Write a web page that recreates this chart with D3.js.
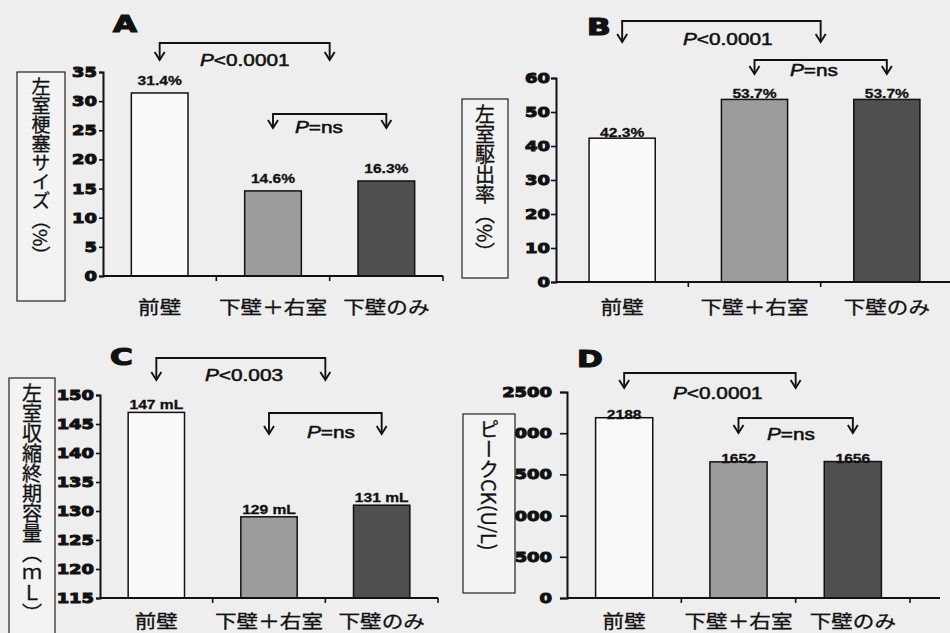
<!DOCTYPE html>
<html>
<head>
<meta charset="utf-8">
<script src="https://cdn.jsdelivr.net/npm/d3@7"></script>
<style>
  body { margin: 0; background: #eeeeee; }
  svg { display: block; }
</style>
</head>
<body>
<svg id="chart" width="950" height="633"></svg>
<script>
// categories shared by all four panels
const categories = ["前壁", "下壁＋右室", "下壁のみ"];

// A: infarct size (%)
const infarctSize = [31.4, 14.6, 16.3];
const infarctText = ["31.4%", "14.6%", "16.3%"];
const infarctTicks = [0, 5, 10, 15, 20, 25, 30, 35];

// B: ejection fraction (%)
const ejectionFraction = [42.3, 53.7, 53.7];
const efText = ["42.3%", "53.7%", "53.7%"];
const efTicks = [0, 10, 20, 30, 40, 50, 60];

// C: end-systolic volume (mL)
const endSystolicVol = [147, 129, 131];
const esvText = ["147 mL", "129 mL", "131 mL"];
const esvTicks = [115, 120, 125, 130, 135, 140, 145, 150];

// D: peak CK (U/L)
const peakCK = [2188, 1652, 1656];
const ckText = ["2188", "1652", "1656"];
const ckTicks = [0, 500, 1000, 1500, 2000, 2500];

const pBig = ["<0.0001", "<0.0001", "<0.003", "<0.0001"];
const pSmall = ["=ns", "=ns", "=ns", "=ns"];
const letters = ["A", "B", "C", "D"];
const yTitles = ["左室梗塞サイズ（%）", "左室駆出率（%）", "左室収縮終期容量（ｍＬ）", "ピークCK(U/L)"];

const barFills = ["#fafafa", "#9c9c9c", "#4f4f4f"];

// panel layout (pixels)
const panels = [
  { values: infarctSize, text: infarctText, ticks: infarctTicks, domain: [0, 35],
    xr: [103, 443], axisEnd: 443, yr: [276, 72], tickGap: 6, tickLen: 4,
    letter: [113, 32], box: [17, 72, 48, 229], titleSize: 19,
    big: [43, 60], bigText: [200, 66], small: [114, 128], smallText: [295, 133],
    valOff: 8, catY: 314 },
  { values: ejectionFraction, text: efText, ticks: efTicks, domain: [0, 60],
    xr: [556, 953], axisEnd: 950, yr: [282, 78], tickGap: 6, tickLen: 5,
    letter: [587, 35], box: [462, 99, 46, 179], titleSize: 20,
    big: [21, 42], bigText: [683, 45], small: [60, 74], smallText: [790, 76],
    valOff: 1, catY: 314 },
  { values: endSystolicVol, text: esvText, ticks: esvTicks, domain: [115, 150],
    xr: [100, 438], axisEnd: 438, yr: [598, 395], tickGap: 6, tickLen: 4,
    letter: [110, 365], box: [9, 378, 46, 270], titleSize: 20,
    big: [358, 380], bigText: [205, 381], small: [413, 434], smallText: [307, 438],
    valOff: 3, catY: 628 },
  { values: peakCK, text: ckText, ticks: ckTicks, domain: [0, 2500],
    xr: [567, 910], axisEnd: 940, yr: [598, 392], tickGap: 15, tickLen: 7,
    letter: [577, 367], box: [463, 414, 52, 179], titleSize: 20,
    big: [373, 388], bigText: [673, 399], small: [418, 433], smallText: [767, 440],
    valOff: -1, catY: 628 }
];

const svg = d3.select("#chart");
svg.append("rect").attr("width", 950).attr("height", 633).attr("fill", "#eeeeee");

// text that is stretched sideways like the scanned original
function wideText(g, x, y, str, o) {
  return g.append("text")
    .attr("transform", `translate(${x},${y}) scale(${o.sx || 1.3},1)`)
    .attr("text-anchor", o.anchor || "start")
    .style("font-family", o.family || "'Liberation Sans', Arial, sans-serif")
    .style("font-size", (o.size || 16) + "px")
    .style("font-weight", o.weight || "normal")
    .attr("fill", "#111")
    .attr("stroke", "#111")
    .attr("stroke-width", o.sw || 0.4)
    .text(str);
}

function pText(g, x, y, rest) {
  const t = wideText(g, x, y, "", { size: 16, sx: 1.3, sw: 0.5 });
  t.append("tspan").style("font-style", "italic").text("P");
  t.append("tspan").text(rest);
}

function bracket(g, x1, x2, top, bottom) {
  g.append("path")
    .attr("d", `M${x1},${bottom}V${top}H${x2}V${bottom}`)
    .attr("fill", "none").attr("stroke", "#111").attr("stroke-width", 1.9);
  [x1, x2].forEach(x => {
    g.append("path")
      .attr("d", `M${x - 5},${bottom - 8}L${x},${bottom}L${x + 5},${bottom - 8}`)
      .attr("fill", "none").attr("stroke", "#111").attr("stroke-width", 1.9);
  });
}

panels.forEach((p, i) => {
  const g = svg.append("g");

  const x = d3.scaleBand().domain(categories).range(p.xr)
    .paddingInner(0.5).paddingOuter(0.25);
  const y = d3.scaleLinear().domain(p.domain).range(p.yr);
  const bw = x.bandwidth();
  const step = x.step();

  // bars
  g.selectAll(".bar").data(p.values).enter().append("rect")
    .attr("x", (d, j) => x(categories[j]))
    .attr("y", d => y(d))
    .attr("width", bw)
    .attr("height", d => y(p.domain[0]) - y(d))
    .attr("fill", (d, j) => barFills[j])
    .attr("stroke", "#111").attr("stroke-width", 1.5);

  // value labels
  p.values.forEach((v, j) => {
    wideText(g, x(categories[j]) + bw / 2, y(v) - p.valOff, p.text[j],
      { anchor: "middle", size: 13, weight: "bold", sx: 1.2, sw: 0.3 });
  });

  // y axis
  const yAxis = g.append("g")
    .attr("transform", `translate(${p.xr[0]},0)`)
    .call(d3.axisLeft(y).tickValues(p.ticks).tickSize(p.tickLen).tickFormat(d3.format("d")));
  yAxis.select(".domain").attr("stroke", "#111").attr("stroke-width", 2);
  yAxis.selectAll(".tick line").attr("stroke", "#111").attr("stroke-width", 1.6);
  yAxis.selectAll(".tick text")
    .attr("x", 0)
    .attr("transform", `translate(${-p.tickGap},0) scale(1.28,1)`)
    .style("font-family", "'DejaVu Sans', sans-serif")
    .style("font-size", "14px").style("font-weight", "bold")
    .attr("fill", "#111").attr("stroke", "#111").attr("stroke-width", 1.0);

  // x axis
  const xAxis = g.append("g")
    .attr("transform", `translate(0,${p.yr[0]})`)
    .call(d3.axisBottom(x).tickSize(0).tickFormat(""));
  xAxis.select(".domain")
    .attr("d", `M${p.xr[0]},0H${p.axisEnd}`)
    .attr("stroke", "#111").attr("stroke-width", 2);
  [1, 2, 3].forEach(k => {
    const bx = p.xr[0] + step * k;
    if (bx <= p.axisEnd + 1) {
      xAxis.append("line").attr("x1", bx).attr("x2", bx).attr("y1", 0).attr("y2", 5)
        .attr("stroke", "#111").attr("stroke-width", 1.6);
    }
  });

  // category labels
  categories.forEach(c => {
    wideText(g, x(c) + bw / 2, p.catY, c,
      { anchor: "middle", size: 18, sx: 1.2, sw: 0.3, family: "'Noto Sans CJK JP', sans-serif" });
  });

  // panel letter
  wideText(g, p.letter[0], p.letter[1], letters[i],
    { size: 23, weight: "bold", sx: 1.35, sw: 1.2, family: "'DejaVu Sans', sans-serif" });

  // significance brackets
  const bigL = x(categories[0]) + bw / 2;
  const bigR = x(categories[2]) - step * 0.25;
  bracket(g, bigL, bigR, p.big[0], p.big[1]);
  pText(g, p.bigText[0], p.bigText[1], pBig[i]);
  bracket(g, x(categories[1]) + bw / 2, x(categories[2]) + bw / 2, p.small[0], p.small[1]);
  pText(g, p.smallText[0], p.smallText[1], pSmall[i]);

  // y title box with vertical text
  const [bx, by, bwid, bh] = p.box;
  g.append("rect").attr("x", bx).attr("y", by).attr("width", bwid).attr("height", bh)
    .attr("fill", "#f3f3f3").attr("stroke", "#222").attr("stroke-width", 1.2);
  g.append("text")
    .attr("x", bx + bwid / 2).attr("y", by + 5)
    .style("writing-mode", "vertical-rl")
    .style("font-family", "'Noto Sans CJK JP', sans-serif")
    .style("font-size", p.titleSize + "px")
    .attr("fill", "#111").attr("stroke", "#111").attr("stroke-width", 0.3)
    .text(yTitles[i]);
});
</script>
</body>
</html>
